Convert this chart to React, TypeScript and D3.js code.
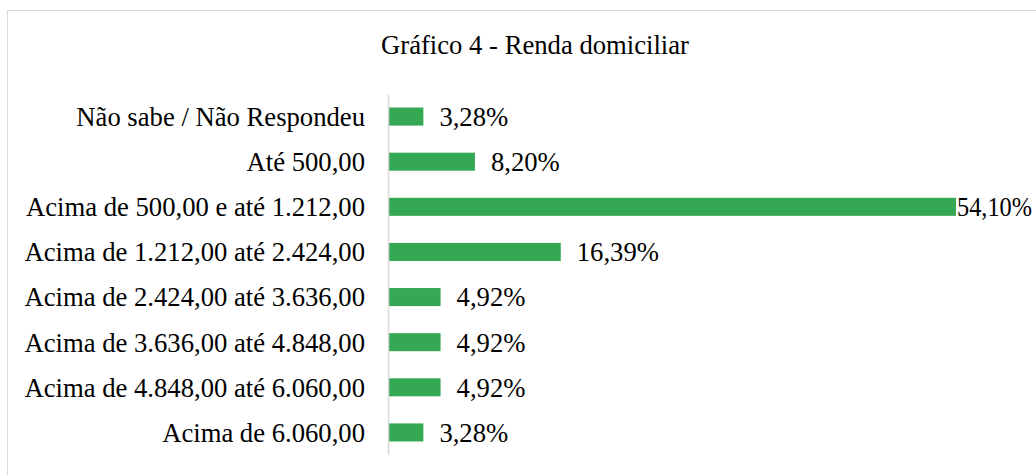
import React, { useEffect, useRef } from 'react';
import * as d3 from 'd3';

const categories = [
  'Não sabe / Não Respondeu',
  'Até 500,00',
  'Acima de 500,00 e até 1.212,00',
  'Acima de 1.212,00 até 2.424,00',
  'Acima de 2.424,00 até 3.636,00',
  'Acima de 3.636,00 até 4.848,00',
  'Acima de 4.848,00 até 6.060,00',
  'Acima de 6.060,00',
];
const values = [3.28, 8.2, 54.1, 16.39, 4.92, 4.92, 4.92, 3.28];
const valueLabels = ['3,28%', '8,20%', '54,10%', '16,39%', '4,92%', '4,92%', '4,92%', '3,28%'];

const width = 1036;
const height = 475;
const font = 'Liberation Serif, Tinos, DejaVu Serif, serif';
const fontSize = 26.67; // 20pt

const App: React.FC = () => {
  const svgRef = useRef<SVGSVGElement | null>(null);

  useEffect(() => {
    d3.select(svgRef.current).selectAll('*').remove();
    const svg = d3.select(svgRef.current);

    // chart frame, only top and left edges show in the crop
    svg
      .append('rect')
      .attr('x', 7.5)
      .attr('y', 10.5)
      .attr('width', 1040)
      .attr('height', 480)
      .attr('fill', '#fff')
      .attr('stroke', '#d9d9d9');

    svg
      .append('text')
      .attr('x', 535)
      .attr('y', 54)
      .attr('text-anchor', 'middle')
      .style('font-family', font)
      .style('font-size', fontSize + 'px')
      .attr('fill', '#000')
      .text('Gráfico 4 - Renda domiciliar');

    const x = d3.scaleLinear().domain([0, 54.1]).range([389, 956]);
    const y = d3.scaleBand<string>().domain(categories).range([94, 455]).paddingInner(0.6).paddingOuter(0.3);

    svg
      .selectAll('.bar')
      .data(values)
      .enter()
      .append('rect')
      .attr('class', 'bar')
      .attr('x', x(0))
      .attr('y', (d, i) => y(categories[i])!)
      .attr('width', d => x(d) - x(0))
      .attr('height', y.bandwidth())
      .attr('fill', '#35a853');

    // category axis line
    svg
      .append('line')
      .attr('x1', 388.5)
      .attr('x2', 388.5)
      .attr('y1', 94)
      .attr('y2', 455)
      .attr('stroke', '#d9d9d9')
      .attr('stroke-width', 1.5);

    svg
      .selectAll('.cat')
      .data(categories)
      .enter()
      .append('text')
      .attr('class', 'cat')
      .attr('x', 365)
      .attr('y', d => y(d)! + y.bandwidth() / 2)
      .attr('dy', '0.35em')
      .attr('text-anchor', 'end')
      .style('font-family', font)
      .style('font-size', fontSize + 'px')
      .attr('fill', '#000')
      .text(d => d);

    const labels = svg
      .selectAll<SVGTextElement, number>('.val')
      .data(values)
      .enter()
      .append('text')
      .attr('class', 'val')
      .attr('y', (d, i) => y(categories[i])! + y.bandwidth() / 2)
      .attr('dy', '0.35em')
      .style('font-family', font)
      .style('font-size', fontSize + 'px')
      .attr('fill', '#000')
      .text((d, i) => valueLabels[i]);

    // labels that would run off the edge sit against the bar, squeezed to fit
    labels.each(function (d) {
      const w = this.getComputedTextLength();
      const sel = d3.select(this);
      if (x(d) + 16 + w > width) {
        const pos = x(d) + 1;
        sel.attr('x', pos);
        if (pos + w > width - 4) {
          sel.attr('textLength', width - 4 - pos).attr('lengthAdjust', 'spacingAndGlyphs');
        }
      } else {
        sel.attr('x', x(d) + 16);
      }
    });
  }, []);

  return (
    <svg
      ref={svgRef}
      width={width}
      height={height}
      style={{ position: 'absolute', left: 0, top: 0, display: 'block' }}
    ></svg>
  );
};

export default App;
